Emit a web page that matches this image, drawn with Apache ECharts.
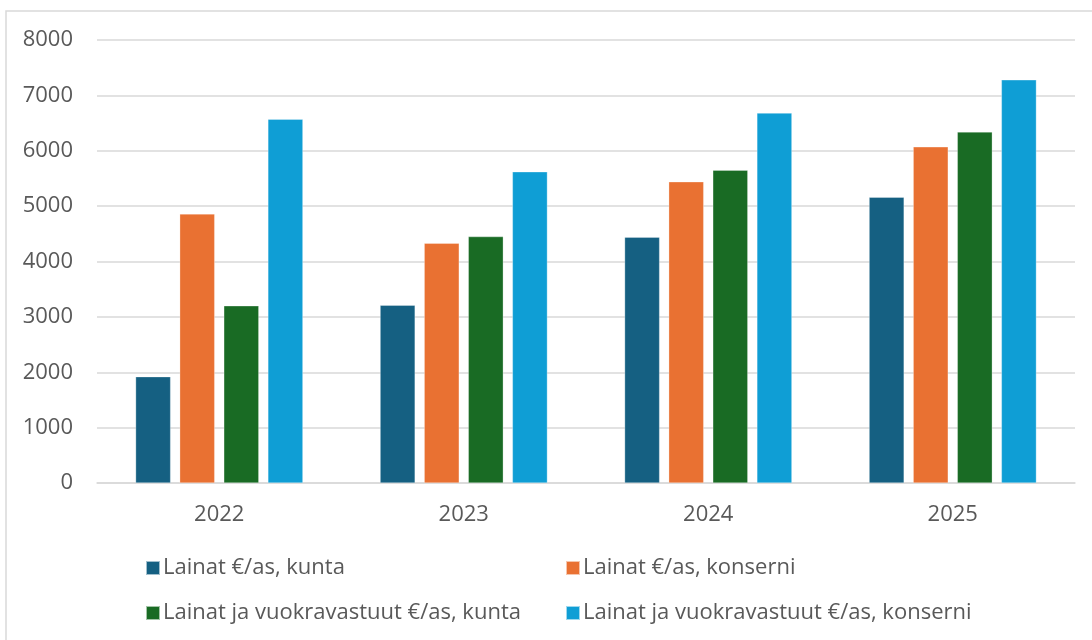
<!DOCTYPE html>
<html><head><meta charset="utf-8">
<script src="https://cdn.jsdelivr.net/npm/echarts@6/dist/echarts.min.js"></script>
<style>html,body{margin:0;padding:0;background:#fff}#c{width:1092px;height:640px}</style>
</head><body><div id="c"></div>
<script>
const categories = ['2022','2023','2024','2025'];
const seriesNames = ['Lainat €/as, kunta','Lainat €/as, konserni','Lainat ja vuokravastuut €/as, kunta','Lainat ja vuokravastuut €/as, konserni'];
const lainatKunta = [1920, 3210, 4440, 5160];
const lainatKonserni = [4860, 4330, 5440, 6070];
const vuokraKunta = [3200, 4450, 5650, 6340];
const vuokraKonserni = [6570, 5620, 6680, 7280];
const colors = ['#156082','#E97132','#196B24','#0F9ED5'];
const values = [lainatKunta, lainatKonserni, vuokraKunta, vuokraKonserni];
const font = 'Open Sans, Liberation Sans, sans-serif';
const legendPos = [[140,552],[560,552],[140,597],[560,597]];
const chart = echarts.init(document.getElementById('c'));
chart.setOption({
  animation:false,
  color:colors,
  textStyle:{fontFamily:font},
  graphic:[{type:'rect',shape:{x:6,y:11,width:1090,height:640},style:{fill:null,stroke:'#d9d9d9',lineWidth:1.5},silent:true}],
  grid:{left:97,right:17,top:40,bottom:157},
  legend: seriesNames.map((n,i)=>({data:[n],left:legendPos[i][0],top:legendPos[i][1],itemWidth:14,itemHeight:14,icon:'rect',itemGap:6,
    textStyle:{color:'#595959',fontSize:22,fontFamily:font,padding:[0,0,0,-2]}})),
  xAxis:{type:'category',data:categories,axisTick:{show:false},axisLine:{lineStyle:{color:'#d9d9d9',width:1.5}},
    axisLabel:{color:'#595959',fontSize:22,margin:21,fontFamily:font}},
  yAxis:{type:'value',min:0,max:8000,interval:1000,axisLabel:{color:'#595959',fontSize:22,margin:24,fontFamily:font,formatter:v=>String(v)},
    splitLine:{lineStyle:{color:'#d9d9d9',width:1.5}}},
  series: seriesNames.map((n,i)=>({name:n,type:'bar',data:values[i],barWidth:35,barGap:'26%',
    itemStyle:{color:colors[i],borderColor:'rgba(255,255,255,0.6)',borderWidth:0.5}}))
});
</script></body></html>
